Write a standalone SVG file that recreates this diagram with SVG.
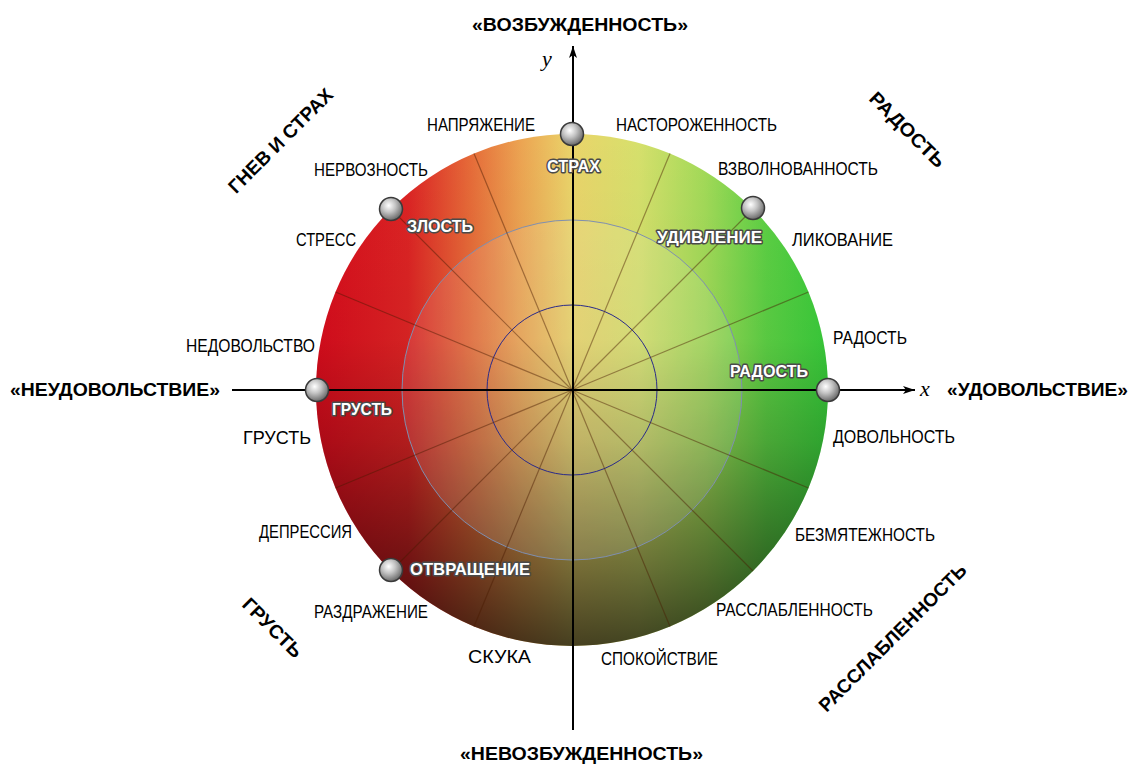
<svg xmlns="http://www.w3.org/2000/svg" width="1134" height="764" viewBox="0 0 1134 764">
<defs>
<linearGradient id="hue" gradientUnits="userSpaceOnUse" x1="316" y1="0" x2="828" y2="0">
<stop offset="0" stop-color="#d70c1c"/>
<stop offset="0.18" stop-color="#dc2424"/>
<stop offset="0.3" stop-color="#e66a38"/>
<stop offset="0.4" stop-color="#eca452"/>
<stop offset="0.5" stop-color="#ead46a"/>
<stop offset="0.63" stop-color="#d6e06c"/>
<stop offset="0.76" stop-color="#a2da58"/>
<stop offset="0.88" stop-color="#5cd044"/>
<stop offset="1" stop-color="#38cc3a"/>
</linearGradient>
<linearGradient id="shade" gradientUnits="userSpaceOnUse" x1="0" y1="134" x2="0" y2="646">
<stop offset="0" stop-color="#000" stop-opacity="0"/>
<stop offset="0.4" stop-color="#000" stop-opacity="0.04"/>
<stop offset="0.6" stop-color="#000" stop-opacity="0.2"/>
<stop offset="0.85" stop-color="#000" stop-opacity="0.5"/>
<stop offset="1" stop-color="#000" stop-opacity="0.7"/>
</linearGradient>
<radialGradient id="ball" cx="0.4" cy="0.35" r="0.65">
<stop offset="0" stop-color="#ffffff"/>
<stop offset="0.45" stop-color="#c4c4c4"/>
<stop offset="1" stop-color="#6a6a6a"/>
</radialGradient>
<marker id="arr" viewBox="0 0 12 8" refX="12" refY="4" markerWidth="12" markerHeight="8" markerUnits="userSpaceOnUse" orient="auto">
<path d="M0,0 L12,4 L0,8 L3,4 Z" fill="#000"/>
</marker>
<style>
.lbl{font-family:"Liberation Sans",Arial,sans-serif;font-size:18px;fill:#000}
.wl{font-family:"Liberation Sans",Arial,sans-serif;font-size:17px;font-weight:bold;fill:#fff;stroke:#4a4a4a;stroke-width:3;paint-order:stroke;stroke-linejoin:round}
.big{font-family:"Liberation Sans",Arial,sans-serif;font-size:19px;font-weight:bold;fill:#000}
.ax{font-family:"Liberation Serif","Times New Roman",serif;font-size:22px;font-style:italic;fill:#000}
.spoke{stroke:#4a1a00;stroke-opacity:0.45;stroke-width:1.2}
.bl{fill:url(#ball);stroke:#3a3a3a;stroke-width:1.5}
</style>
</defs>
<rect width="1134" height="764" fill="#fff"/>
<g id="disc">
<circle cx="572" cy="390" r="256" fill="url(#hue)"/>
<circle cx="572" cy="390" r="256" fill="url(#shade)"/>
<circle cx="572" cy="390" r="170" fill="#fff" fill-opacity="0.1" stroke="#7f8fb0" stroke-width="1"/>
<circle cx="572" cy="390" r="85" fill="none" stroke="#2a2a8a" stroke-width="1"/>
</g>
<g id="connectors">
<line class="spoke" x1="572" y1="390" x2="808.5" y2="292"/>
<line class="spoke" x1="572" y1="390" x2="753" y2="209"/>
<line class="spoke" x1="572" y1="390" x2="670" y2="153.5"/>
<line class="spoke" x1="572" y1="390" x2="474" y2="153.5"/>
<line class="spoke" x1="572" y1="390" x2="391" y2="209"/>
<line class="spoke" x1="572" y1="390" x2="335.5" y2="292"/>
<line class="spoke" x1="572" y1="390" x2="335.5" y2="488"/>
<line class="spoke" x1="572" y1="390" x2="391" y2="571"/>
<line class="spoke" x1="572" y1="390" x2="474" y2="626.5"/>
<line class="spoke" x1="572" y1="390" x2="670" y2="626.5"/>
<line class="spoke" x1="572" y1="390" x2="753" y2="571"/>
<line class="spoke" x1="572" y1="390" x2="808.5" y2="488"/>
<line x1="232" y1="390" x2="915" y2="390" stroke="#000" stroke-width="2" marker-end="url(#arr)"/>
<line x1="573" y1="730" x2="573" y2="46" stroke="#000" stroke-width="2" marker-end="url(#arr)"/>
</g>
<g id="axis-labels">
<text class="ax" x="542" y="66">y</text>
<text class="ax" x="920" y="396">x</text>
<text class="big" x="472" y="31" textLength="216" lengthAdjust="spacingAndGlyphs">«ВОЗБУЖДЕННОСТЬ»</text>
<text class="big" x="460" y="760" textLength="243" lengthAdjust="spacingAndGlyphs">«НЕВОЗБУЖДЕННОСТЬ»</text>
<text class="big" x="10" y="396" textLength="210" lengthAdjust="spacingAndGlyphs">«НЕУДОВОЛЬСТВИЕ»</text>
<text class="big" x="947" y="396" textLength="181" lengthAdjust="spacingAndGlyphs">«УДОВОЛЬСТВИЕ»</text>
</g>
<g id="corner-labels">
<text class="big" transform="translate(281,141) rotate(-45)" x="0" y="6" text-anchor="middle" textLength="139" lengthAdjust="spacingAndGlyphs">ГНЕВ И СТРАХ</text>
<text class="big" transform="translate(907,130) rotate(45)" x="0" y="6" text-anchor="middle" textLength="98" lengthAdjust="spacingAndGlyphs">РАДОСТЬ</text>
<text class="big" transform="translate(272,628) rotate(45)" x="0" y="6" text-anchor="middle" textLength="76" lengthAdjust="spacingAndGlyphs">ГРУСТЬ</text>
<text class="big" transform="translate(893,638) rotate(-45)" x="0" y="6" text-anchor="middle" textLength="200" lengthAdjust="spacingAndGlyphs">РАССЛАБЛЕННОСТЬ</text>
</g>
<g id="outer-labels">
<text class="lbl" x="427" y="131" textLength="108" lengthAdjust="spacingAndGlyphs">НАПРЯЖЕНИЕ</text>
<text class="lbl" x="616" y="131" textLength="161" lengthAdjust="spacingAndGlyphs">НАСТОРОЖЕННОСТЬ</text>
<text class="lbl" x="314" y="176" textLength="114" lengthAdjust="spacingAndGlyphs">НЕРВОЗНОСТЬ</text>
<text class="lbl" x="718" y="175" textLength="160" lengthAdjust="spacingAndGlyphs">ВЗВОЛНОВАННОСТЬ</text>
<text class="lbl" x="296" y="246" textLength="60" lengthAdjust="spacingAndGlyphs">СТРЕСС</text>
<text class="lbl" x="792" y="246" textLength="101" lengthAdjust="spacingAndGlyphs">ЛИКОВАНИЕ</text>
<text class="lbl" x="186" y="352" textLength="129" lengthAdjust="spacingAndGlyphs">НЕДОВОЛЬСТВО</text>
<text class="lbl" x="833" y="344" textLength="74" lengthAdjust="spacingAndGlyphs">РАДОСТЬ</text>
<text class="lbl" x="243" y="444" textLength="68" lengthAdjust="spacingAndGlyphs">ГРУСТЬ</text>
<text class="lbl" x="833" y="443" textLength="122" lengthAdjust="spacingAndGlyphs">ДОВОЛЬНОСТЬ</text>
<text class="lbl" x="259" y="538" textLength="93" lengthAdjust="spacingAndGlyphs">ДЕПРЕССИЯ</text>
<text class="lbl" x="795" y="541" textLength="140" lengthAdjust="spacingAndGlyphs">БЕЗМЯТЕЖНОСТЬ</text>
<text class="lbl" x="314" y="618" textLength="114" lengthAdjust="spacingAndGlyphs">РАЗДРАЖЕНИЕ</text>
<text class="lbl" x="716" y="616" textLength="157" lengthAdjust="spacingAndGlyphs">РАССЛАБЛЕННОСТЬ</text>
<text class="lbl" x="468" y="663" textLength="63" lengthAdjust="spacingAndGlyphs">СКУКА</text>
<text class="lbl" x="601" y="665" textLength="117" lengthAdjust="spacingAndGlyphs">СПОКОЙСТВИЕ</text>
</g>
<g id="node-strakh">
<circle class="bl" cx="572" cy="134" r="11.5"/>
<text class="wl" x="547" y="172" textLength="53" lengthAdjust="spacingAndGlyphs">СТРАХ</text>
</g>
<g id="node-zlost">
<circle class="bl" cx="391" cy="209" r="11.5"/>
<text class="wl" x="407" y="232" textLength="66" lengthAdjust="spacingAndGlyphs">ЗЛОСТЬ</text>
</g>
<g id="node-udivlenie">
<circle class="bl" cx="753" cy="208" r="11.5"/>
<text class="wl" x="657" y="243" textLength="105" lengthAdjust="spacingAndGlyphs">УДИВЛЕНИЕ</text>
</g>
<g id="node-radost">
<circle class="bl" cx="828" cy="390" r="11.5"/>
<text class="wl" x="730" y="377" textLength="78" lengthAdjust="spacingAndGlyphs">РАДОСТЬ</text>
</g>
<g id="node-grust">
<circle class="bl" cx="317" cy="390" r="11.5"/>
<text class="wl" x="332" y="415" textLength="60" lengthAdjust="spacingAndGlyphs">ГРУСТЬ</text>
</g>
<g id="node-otvrashchenie">
<circle class="bl" cx="391" cy="570" r="11.5"/>
<text class="wl" x="410" y="575" textLength="120" lengthAdjust="spacingAndGlyphs">ОТВРАЩЕНИЕ</text>
</g>
</svg>
